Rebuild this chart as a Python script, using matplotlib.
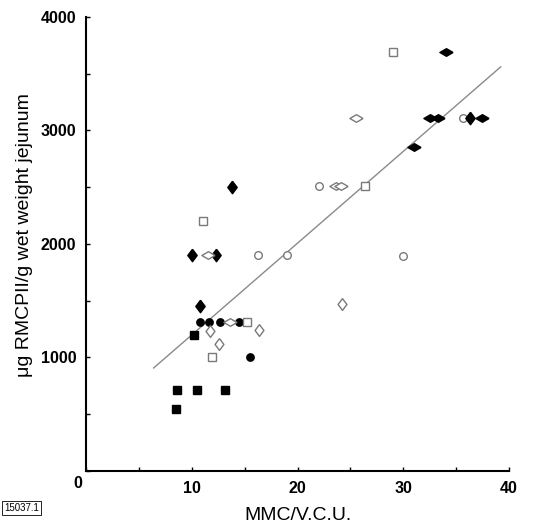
import matplotlib.pyplot as plt
from matplotlib.markers import MarkerStyle

# MMC/V.C.U. (x) vs ug RMCPII/g wet weight jejunum (y), grouped by symbol
filled_square_x = [8.64, 10.45, 13.16, 8.55, 10.17]
filled_square_y = [710, 710, 710, 545, 1197]

filled_circle_x = [10.78, 11.61, 12.71, 14.45, 15.5]
filled_circle_y = [1310, 1310, 1310, 1310, 1000]

open_square_x = [11.03, 15.2, 11.9, 29.0, 26.4]
open_square_y = [2200, 1310, 1000, 3690, 2510]

open_circle_x = [16.3, 19.0, 22.0, 35.6, 30.0]
open_circle_y = [1900, 1900, 2510, 3110, 1895]

filled_vdiamond_x = [10.0, 12.3, 10.78, 13.84, 36.3]
filled_vdiamond_y = [1900, 1900, 1455, 2500, 3110]

filled_hdiamond_x = [34.0, 32.5, 33.3, 37.4, 31.0]
filled_hdiamond_y = [3690, 3110, 3110, 3110, 2853]

open_hdiamond_x = [11.5, 13.6, 25.5, 23.6, 24.1]
open_hdiamond_y = [1900, 1310, 3110, 2510, 2510]

open_vdiamond_x = [11.7, 16.4, 12.6, 24.2]
open_vdiamond_y = [1232, 1240, 1116, 1470]

# regression line end points
fit_x = [6.4, 39.2]
fit_y = [907, 3559]

x_ticks = [0, 5, 10, 15, 20, 25, 30, 35, 40]
x_ticklabels = ['', '', '10', '', '20', '', '30', '', '40']
y_ticks = [0, 500, 1000, 1500, 2000, 2500, 3000, 3500, 4000]
y_ticklabels = ['', '', '1000', '', '2000', '', '3000', '', '4000']

plt.rcParams['font.family'] = ['Liberation Sans', 'DejaVu Sans']

fig = plt.figure(figsize=(5.44, 5.25), dpi=100)
ax = fig.add_axes([0.158, 0.103, 0.778, 0.865])

grey = '#7a7a7a'
ax.plot(fit_x, fit_y, color='#8a8a8a', lw=1.0, zorder=1)

# diamond shapes: tall and wide variants
vd = MarkerStyle([(0, 1), (0.75, 0), (0, -1), (-0.75, 0), (0, 1)])
hd = MarkerStyle([(1, 0), (0, 0.58), (-1, 0), (0, -0.58), (1, 0)])

ax.plot(filled_square_x, filled_square_y, 's', color='black', ms=5.3, ls='none')
ax.plot(filled_circle_x, filled_circle_y, 'o', color='black', ms=5.3, ls='none')
ax.plot(open_square_x, open_square_y, 's', mfc='white', mec=grey, mew=1.0, ms=5.5, ls='none')
ax.plot(open_circle_x, open_circle_y, 'o', mfc='white', mec=grey, mew=1.0, ms=5.5, ls='none')
ax.plot(filled_vdiamond_x, filled_vdiamond_y, marker=vd, color='black', ms=9, ls='none')
ax.plot(filled_hdiamond_x, filled_hdiamond_y, marker=hd, color='black', ms=9.5, ls='none')
ax.plot(open_hdiamond_x, open_hdiamond_y, marker=hd, mfc='white', mec=grey, mew=1.0, ms=9.5, ls='none')
ax.plot(open_vdiamond_x, open_vdiamond_y, marker=vd, mfc='white', mec=grey, mew=1.0, ms=8.5, ls='none')

ax.set_xlim(0, 40)
ax.set_ylim(0, 4000)
ax.spines['top'].set_visible(False)
ax.spines['right'].set_visible(False)
ax.spines['left'].set_linewidth(1.5)
ax.spines['bottom'].set_linewidth(1.5)
ax.set_xticks(x_ticks)
ax.set_xticklabels(x_ticklabels)
ax.set_yticks(y_ticks)
ax.set_yticklabels(y_ticklabels)
ax.tick_params(direction='in', length=3, width=1, labelsize=11.5, pad=7)
for lbl in ax.get_xticklabels() + ax.get_yticklabels():
    lbl.set_fontweight('bold')

# shared zero at the corner
ax.text(-0.02, -0.012, '0', transform=ax.transAxes, ha='center', va='top',
        fontsize=11.5, fontweight='bold')

ax.set_xlabel('MMC/V.C.U.', fontsize=14, labelpad=8)
ax.set_ylabel('\u03bcg RMCPII/g wet weight jejunum', fontsize=14)
ax.yaxis.set_label_coords(-0.125, 0.52)

fig.text(0.008, 0.032, '15037.1', fontsize=7, ha='left', va='center',
         bbox=dict(boxstyle='square,pad=0.2', fc='white', ec='black', lw=0.6))

plt.savefig('out.png', dpi=100)
